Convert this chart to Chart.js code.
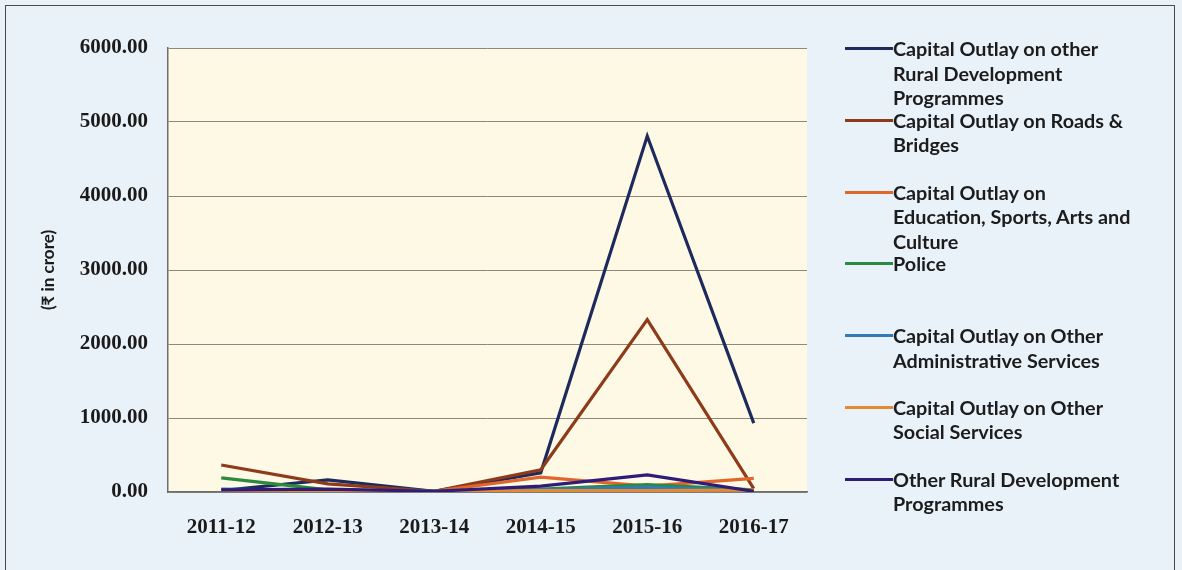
<!DOCTYPE html>
<html>
<head>
<meta charset="utf-8">
<script src="https://cdn.jsdelivr.net/npm/chart.js@4.4.1/dist/chart.umd.min.js"></script>
<style>
    html, body { margin: 0; padding: 0; }
    body { width: 1182px; height: 570px; background: #e9f1f9; position: relative; overflow: hidden; }
    #frame { position: absolute; left: 5px; top: 5px; width: 1168px; height: 580px; border: 1.5px solid #4a4a4a; }
    #chartBox { position: absolute; left: 0; top: 0; width: 1182px; height: 570px; }
    #legend { position: absolute; left: 845px; top: 36px; font-family: Lato, 'Noto Sans', sans-serif; font-weight: bold; font-size: 19.8px; line-height: 24.5px; color: #1c1c1c; }
    .item { position: relative; height: 71.8px; padding-left: 48px; white-space: nowrap; }
    .item .mark { position: absolute; left: 0; top: 11px; width: 48px; height: 3px; }
</style>
</head>
<body>
<div id="frame"></div>
<div id="chartBox"><canvas id="outlayChart" width="1182" height="570"></canvas></div>
<div id="legend"></div>
<script>
const years = ['2011-12', '2012-13', '2013-14', '2014-15', '2015-16', '2016-17'];

// legend names, one entry per line as wrapped in the original
const seriesNames = [
    ['Capital Outlay on other', 'Rural Development', 'Programmes'],
    ['Capital Outlay on Roads &', 'Bridges'],
    ['Capital Outlay on', 'Education, Sports, Arts and', 'Culture'],
    ['Police'],
    ['Capital Outlay on Other', 'Administrative Services'],
    ['Capital Outlay on Other', 'Social Services'],
    ['Other Rural Development', 'Programmes']
];

const ruralDevCapital = [20, 165, 10, 260, 4810, 930];
const roadsBridges = [365, 110, 10, 300, 2330, 45];
const education = [5, 20, 10, 200, 80, 185];
const police = [190, 30, 10, 40, 100, 30];
const adminServices = [40, 20, 8, 30, 65, 20];
const socialServices = [10, 10, 5, 20, 20, 25];
const ruralDevOther = [30, 40, 10, 80, 230, 10];

const seriesColors = ['#1e2a5c', '#8e3b1c', '#e0662c', '#2c8a3e', '#2f7cb8', '#e38a32', '#2e1c78'];
const seriesValues = [ruralDevCapital, roadsBridges, education, police, adminServices, socialServices, ruralDevOther];

const plotBackground = {
    id: 'plotBackground',
    beforeDraw(chart) {
        const a = chart.chartArea;
        const ctx = chart.ctx;
        ctx.save();
        ctx.fillStyle = '#fdf9e5';
        ctx.fillRect(a.left, a.top, a.right - a.left, a.bottom - a.top);
        ctx.restore();
    }
};

const datasets = seriesNames.map((name, i) => ({
    label: name.join(' '),
    data: seriesValues[i],
    borderColor: seriesColors[i],
    backgroundColor: seriesColors[i],
    borderWidth: 3.2,
    pointRadius: 0,
    tension: 0,
    fill: false
})).reverse();

const outlayChart = new Chart(document.getElementById('outlayChart'), {
    type: 'line',
    data: { labels: years, datasets: datasets },
    options: {
        responsive: false,
        animation: false,
        layout: { padding: { left: 0, top: 48, right: 375, bottom: 0 } },
        plugins: { legend: { display: false }, tooltip: { enabled: false } },
        scales: {
            x: {
                offset: true,
                grid: { display: false, drawTicks: false, offset: true },
                border: { display: true, color: '#6e6e6e', width: 1.5 },
                ticks: {
                    color: '#1a1a1a',
                    padding: 23,
                    font: { family: "'Liberation Serif', serif", weight: 'bold', size: 21 }
                },
                afterFit(scale) { scale.height = 78; }
            },
            y: {
                min: 0,
                max: 6000,
                ticks: {
                    stepSize: 1000,
                    color: '#1a1a1a',
                    padding: 20,
                    font: { family: "'Liberation Serif', serif", weight: 'bold', size: 21 },
                    callback: v => v.toFixed(2)
                },
                grid: { color: '#8e877a', lineWidth: 1, drawTicks: false },
                border: { display: true, color: '#6e6e6e', width: 1.5 },
                title: {
                    display: true,
                    text: '(₹ in crore)',
                    color: '#1a1a1a',
                    padding: { top: 38, bottom: 0 },
                    font: { family: "Lato, 'Noto Sans', sans-serif", weight: 'bold', size: 17 }
                },
                afterFit(scale) { scale.width = 168; }
            }
        }
    },
    plugins: [plotBackground]
});

const legendBox = document.getElementById('legend');
seriesNames.forEach((lines, i) => {
    const item = document.createElement('div');
    item.className = 'item';
    const mark = document.createElement('span');
    mark.className = 'mark';
    mark.style.background = seriesColors[i];
    item.appendChild(mark);
    lines.forEach((line, j) => {
        if (j > 0) item.appendChild(document.createElement('br'));
        item.appendChild(document.createTextNode(line));
    });
    legendBox.appendChild(item);
});
</script>
</body>
</html>
